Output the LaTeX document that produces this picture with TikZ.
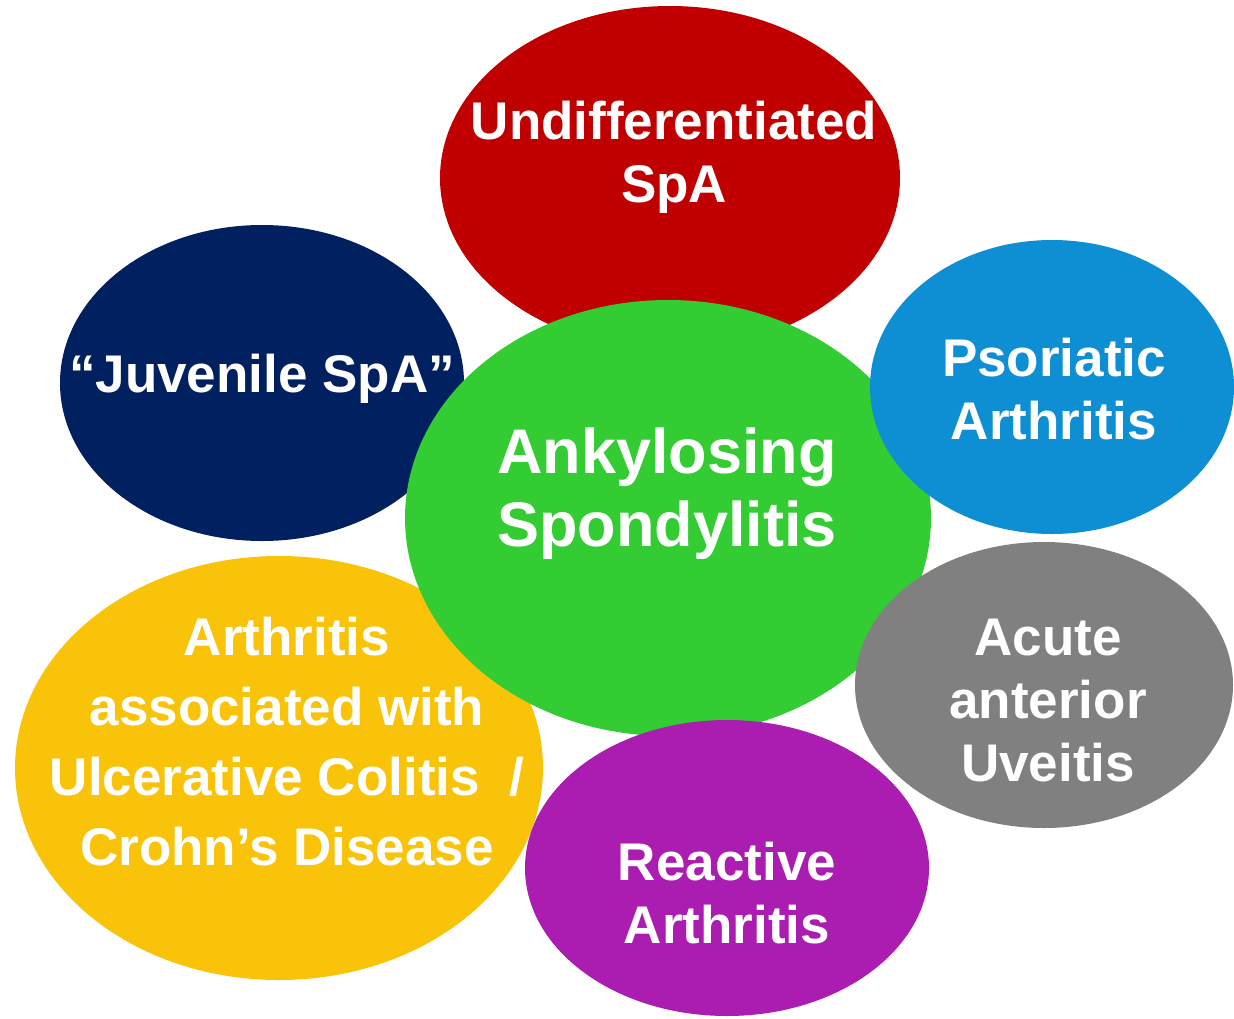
\documentclass[tikz,border=0pt]{standalone}
\usepackage{fontspec}
\setmainfont{Liberation Sans}
\usetikzlibrary{shapes.geometric}
\definecolor{cRed}{HTML}{C00000}
\definecolor{cNavy}{HTML}{002060}
\definecolor{cBlue}{HTML}{0E8ED3}
\definecolor{cGreen}{HTML}{33CC33}
\definecolor{cGray}{HTML}{808080}
\definecolor{cYellow}{HTML}{F8C308}
\definecolor{cPurple}{HTML}{AA1DB0}
\tikzset{
  blob/.style={ellipse, inner sep=0pt, outer sep=0pt, draw=none},
  lbl/.style={text=white, align=center, inner sep=0pt, font=\bfseries\fontsize{53}{63}\selectfont},
  lblbig/.style={text=white, align=center, inner sep=0pt, font=\bfseries\fontsize{63}{73}\selectfont},
  lblwide/.style={text=white, align=center, inner sep=0pt, font=\bfseries\fontsize{53}{70}\selectfont},
}
\begin{document}
\begin{tikzpicture}[x=1pt,y=-1pt]
\useasboundingbox (0,0) rectangle (1234,1018);
\clip (0,0) rectangle (1234,1018);
% background ellipses
\node[blob, fill=cRed, minimum width=460pt, minimum height=344pt] (usp) at (670,178) {};
\node[blob, fill=cNavy, minimum width=404pt, minimum height=316pt] (jsp) at (262,383) {};
\node[blob, fill=cYellow, minimum width=528pt, minimum height=424pt] (ibd) at (279,768) {};
\node[blob, fill=cGreen, minimum width=526pt, minimum height=436pt] (as) at (668,518) {};
\node[blob, fill=cBlue, minimum width=364pt, minimum height=294pt] (psa) at (1052,387) {};
\node[blob, fill=cGray, minimum width=378pt, minimum height=286pt] (aau) at (1044,685) {};
\node[blob, fill=cPurple, minimum width=404pt, minimum height=296pt] (rea) at (727,868) {};
% labels
\node[lbl] (uspT) at (674,157) {Undifferentiated\\SpA};
\node[lbl] (jspT) at (262,379) {“Juvenile SpA”};
\node[lblbig] (asT) at (667,494) {Ankylosing\\Spondylitis};
\node[lbl] (psaT) at (1054,389) {Psoriatic\\Arthritis};
\node[lbl] (aauT) at (1048,701) {Acute\\anterior\\Uveitis};
\node[lblwide] (ibdT) at (287,742) {Arthritis\\associated with\\Ulcerative Colitis\ \ /\\Crohn’s Disease};
\node[lbl] (reaT) at (727,893) {Reactive\\Arthritis};
\end{tikzpicture}
\end{document}
